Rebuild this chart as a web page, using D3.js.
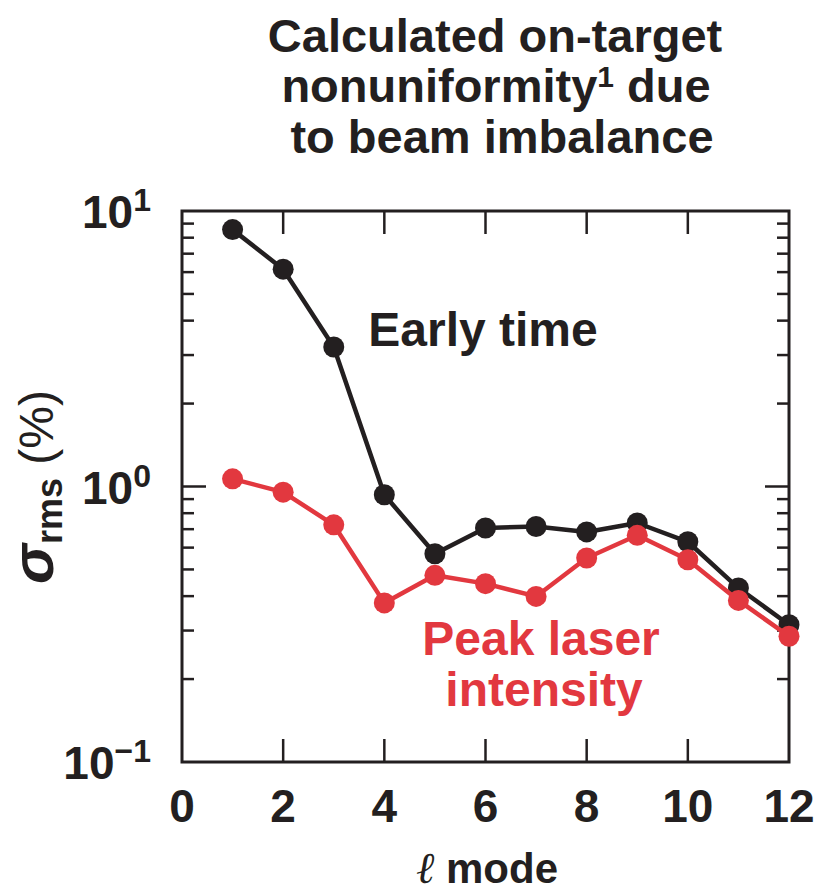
<!DOCTYPE html>
<html><head><meta charset="utf-8">
<script src="https://cdn.jsdelivr.net/npm/d3@7"></script>
<style>body{margin:0;background:#fff}svg{display:block}text{font-family:"Liberation Sans",Arial,sans-serif;font-weight:bold}</style>
</head><body>
<script>
const modes = [1,2,3,4,5,6,7,8,9,10,11,12];
const earlyTime = [8.56,6.15,3.21,0.933,0.570,0.707,0.716,0.684,0.737,0.630,0.428,0.315];
const peakLaser = [1.066,0.954,0.726,0.378,0.476,0.444,0.399,0.550,0.665,0.542,0.386,0.286];
const xTicks = [0,2,4,6,8,10,12];
const yMajor = [0.1,1,10];
const yMajorExp = ["\u22121","0","1"];
const titleLines = ["Calculated on-target","nonuniformity","to beam imbalance"];

const W=816,H=892;
const black="#231f20", red="#e2383f";
const svg=d3.select("body").append("svg").attr("width",W).attr("height",H);
const L=182,R=789,T=211,B=762;
const x=d3.scaleLinear().domain([0,12]).range([L,R]);
const y=d3.scaleLog().domain([0.1,10]).range([B,T]);

// title
const tg=svg.append("g").attr("fill",black).attr("font-size",47).attr("text-anchor","middle");
tg.append("text").attr("x",495).attr("y",52).text(titleLines[0]);
const t2=tg.append("text").attr("x",496).attr("y",102);
t2.append("tspan").text(titleLines[1]);
t2.append("tspan").attr("dy",-15).attr("font-size",30).text("1");
t2.append("tspan").attr("dy",15).text(" due");
tg.append("text").attr("x",502).attr("y",153).text(titleLines[2]);

// frame
const g=svg.append("g");
g.append("rect").attr("x",L).attr("y",T).attr("width",R-L).attr("height",B-T)
 .attr("fill","none").attr("stroke",black).attr("stroke-width",3);

// x ticks (bottom and top, inward)
const xt=xTicks.filter(d=>d>0&&d<12);
g.selectAll(".xb").data(xt).join("line").attr("x1",d=>x(d)).attr("x2",d=>x(d))
 .attr("y1",B).attr("y2",B-23).attr("stroke",black).attr("stroke-width",2.5);
g.selectAll(".xt").data(xt).join("line").attr("x1",d=>x(d)).attr("x2",d=>x(d))
 .attr("y1",T).attr("y2",T+23).attr("stroke",black).attr("stroke-width",2.5);

// y ticks: minor on both sides
const minors=[];
[0.1,1].forEach(b=>{for(let k=2;k<=9;k++)minors.push(b*k);});
[L,R].forEach((xe,i)=>{
  const s=i===0?1:-1;
  g.selectAll(null).data(minors).join("line").attr("x1",xe).attr("x2",xe+s*12)
   .attr("y1",d=>y(d)).attr("y2",d=>y(d)).attr("stroke",black).attr("stroke-width",2.5);
  g.selectAll(null).data([1]).join("line").attr("x1",xe).attr("x2",xe+s*24)
   .attr("y1",d=>y(d)).attr("y2",d=>y(d)).attr("stroke",black).attr("stroke-width",2.5);
});

// x tick labels
svg.append("g").attr("font-size",46).attr("fill",black).attr("text-anchor","middle")
 .selectAll("text").data(xTicks).join("text")
 .attr("x",d=>x(d)).attr("y",822).text(d=>d);

// y tick labels
const yl=svg.append("g").attr("fill",black).attr("text-anchor","end");
yMajor.forEach((v,i)=>{
  const t=yl.append("text").attr("x",151).attr("y",y(v)+17).attr("font-size",46);
  t.append("tspan").text("10");
  t.append("tspan").attr("dy",-17).attr("font-size",32).text(yMajorExp[i]);
});

// y axis label
const ya=svg.append("text").attr("transform","translate(53,487) rotate(-90)")
 .attr("text-anchor","middle").attr("fill",black).attr("font-size",48);
ya.append("tspan").attr("font-style","italic").attr("font-size",60).text("\u03c3");
ya.append("tspan").attr("dy",9).attr("font-size",36).text("rms");
ya.append("tspan").attr("dy",-9).attr("font-weight","normal").text(" (%)");

// x axis label
const xa=svg.append("text").attr("x",487).attr("y",883).attr("text-anchor","middle")
 .attr("fill",black).attr("font-size",42);
xa.append("tspan").attr("font-family","DejaVu Serif").attr("font-weight","normal").attr("font-style","italic").attr("font-size",44).text("\u2113");
xa.append("tspan").text(" mode");

// series
const line=d3.line().x((d,i)=>x(modes[i])).y(d=>y(d));
function series(vals,col){
  svg.append("path").datum(vals).attr("d",line).attr("fill","none")
   .attr("stroke",col).attr("stroke-width",4.5).attr("stroke-linejoin","round");
  svg.append("g").selectAll("circle").data(vals).join("circle")
   .attr("cx",(d,i)=>x(modes[i])).attr("cy",d=>y(d)).attr("r",10.5).attr("fill",col);
}
series(earlyTime,black);
series(peakLaser,red);

// annotations
svg.append("text").attr("x",483).attr("y",346).attr("text-anchor","middle")
 .attr("fill",black).attr("font-size",48).text("Early time");
const pl=svg.append("g").attr("fill",red).attr("font-size",48).attr("text-anchor","middle");
pl.append("text").attr("x",541).attr("y",655).text("Peak laser");
pl.append("text").attr("x",544).attr("y",706).text("intensity");
</script>
</body></html>
